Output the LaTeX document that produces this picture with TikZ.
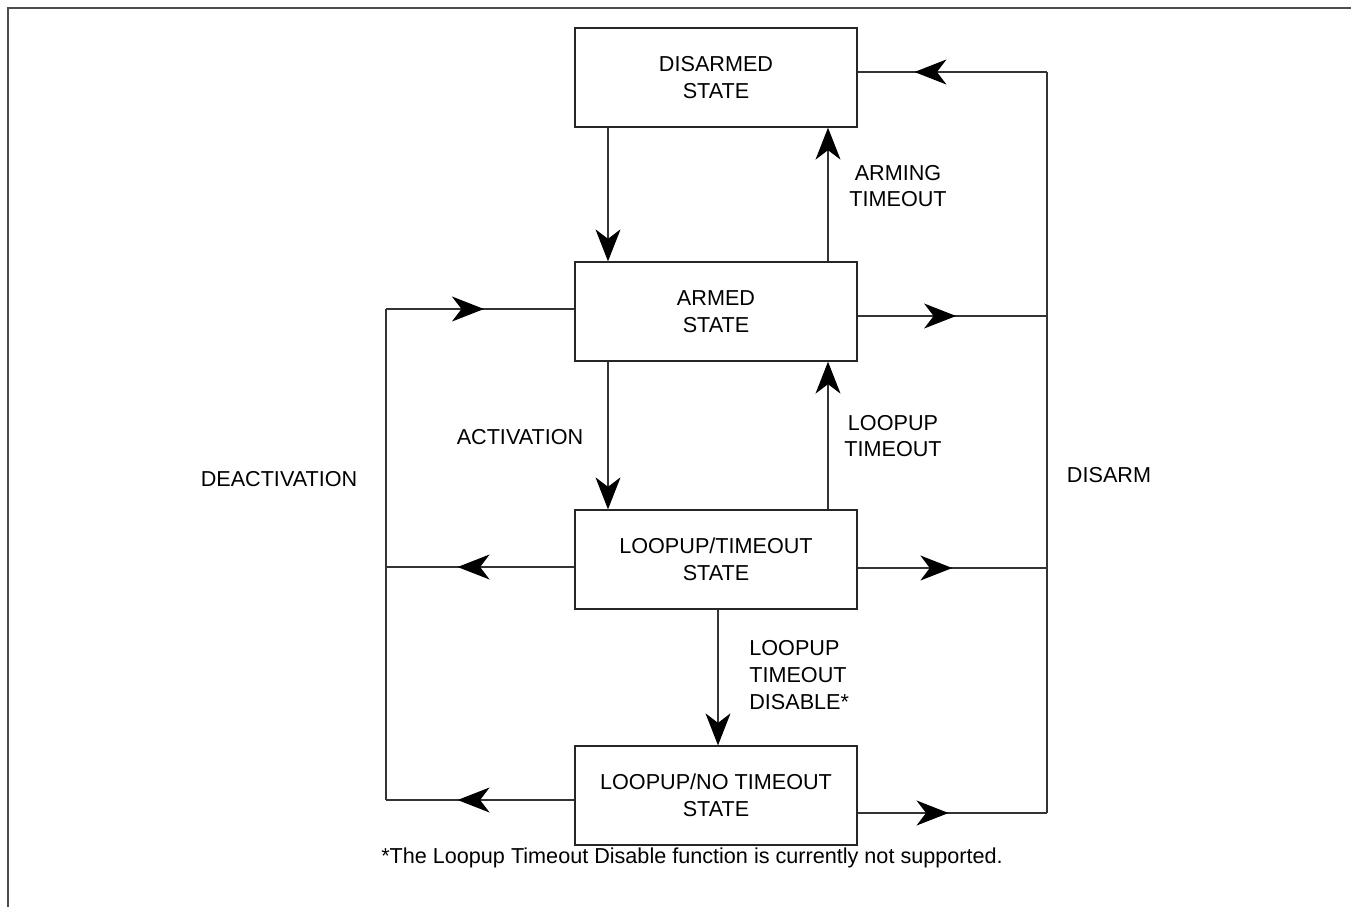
\documentclass[tikz,border=0pt]{standalone}
\usepackage{fontspec}
\setmainfont{Liberation Sans}
\usetikzlibrary{arrows.meta}
\usetikzlibrary{decorations.markings}
\tikzset{
    statebox/.style = {rectangle, draw=black!85, line width=0.75pt, minimum width=5.64cm, minimum height=1.98cm, align=center},
    edgen/.style = {draw=black!80, line width=0.75pt},
    tipn/.tip = {Stealth[length=0.64cm, width=0.5cm, inset=0.19cm, color=black]},
    edgea/.style = {edgen, -tipn},
    edgem/.style = {edgen, postaction={decorate}, decoration={markings, mark=at position #1 with {\arrow{tipn}}}}, % arrow inside the line
    lbl/.style = {align=center, inner sep=0pt}
}

\begin{document}
\begin{tikzpicture}[x=0.02cm, y=-0.02cm, font=\fontsize{12.3}{15.3}\selectfont]
  \useasboundingbox (0,0) rectangle (1351,907);
  % frame
  \draw[draw=black!70, line width=0.9pt] (8,907) -- (8,8) -- (1351,8);

  \node[statebox] (dis) at (716,77.5)  {DISARMED\\STATE};
  \node[statebox] (arm) at (716,311.5) {ARMED\\STATE};
  \node[statebox] (lto) at (716,559.5) {LOOPUP/TIMEOUT\\STATE};
  \node[statebox] (lnt) at (716,795.5) {LOOPUP/NO TIMEOUT\\STATE};

  % rails and columns
  \coordinate (r0) at (1047,72);
  \coordinate (r1) at (1047,316);
  \coordinate (r2) at (1047,568);
  \coordinate (r3) at (1047,813);
  \coordinate (l1) at (386,309);
  \coordinate (l2) at (386,567);
  \coordinate (l3) at (386,800);
  \coordinate (c1) at (608,0);
  \coordinate (c2) at (828,0);
  \coordinate (c3) at (718,0);

  \draw[edgea] (dis.south -| c1) -- (arm.north -| c1);
  \draw[edgea] (arm.north -| c2) -- (dis.south -| c2);
  \draw[edgea] (arm.south -| c1) -- (lto.north -| c1);
  \draw[edgea] (lto.north -| c2) -- (arm.south -| c2);
  \draw[edgea] (lto.south -| c3) -- (lnt.north -| c3);

  \draw[edgem=0.52] (arm.east |- r1) -- (r1);
  \draw[edgem=0.5]  (lto.east |- r2) -- (r2);
  \draw[edgem=0.48] (lnt.east |- r3) -- (r3);
  \draw[edgen] (r3) -- (r0);
  \draw[edgem=0.7]  (r0) -- (dis.east |- r0);

  \draw[edgem=0.62] (lto.west |- l2) -- (l2);
  \draw[edgem=0.62] (lnt.west |- l3) -- (l3);
  \draw[edgen] (l3) -- (l1);
  \draw[edgem=0.52] (l1) -- (arm.west |- l1);

  \node[lbl] (armto)  at (898,186)  {ARMING\\TIMEOUT};
  \node[lbl] (act)    at (520,437)  {ACTIVATION};
  \node[lbl] (lupto)  at (893,436)  {LOOPUP\\TIMEOUT};
  \node[lbl] (deact)  at (279,479)  {DEACTIVATION};
  \node[lbl] (disarm) at (1109,475) {DISARM};
  \node[lbl, align=left, anchor=west] (ltdis) at (749,675) {LOOPUP\\TIMEOUT\\DISABLE*};
  \node[lbl] (note) at (692,858) {*The Loopup Timeout Disable function is currently not supported.};
\end{tikzpicture}
\end{document}
